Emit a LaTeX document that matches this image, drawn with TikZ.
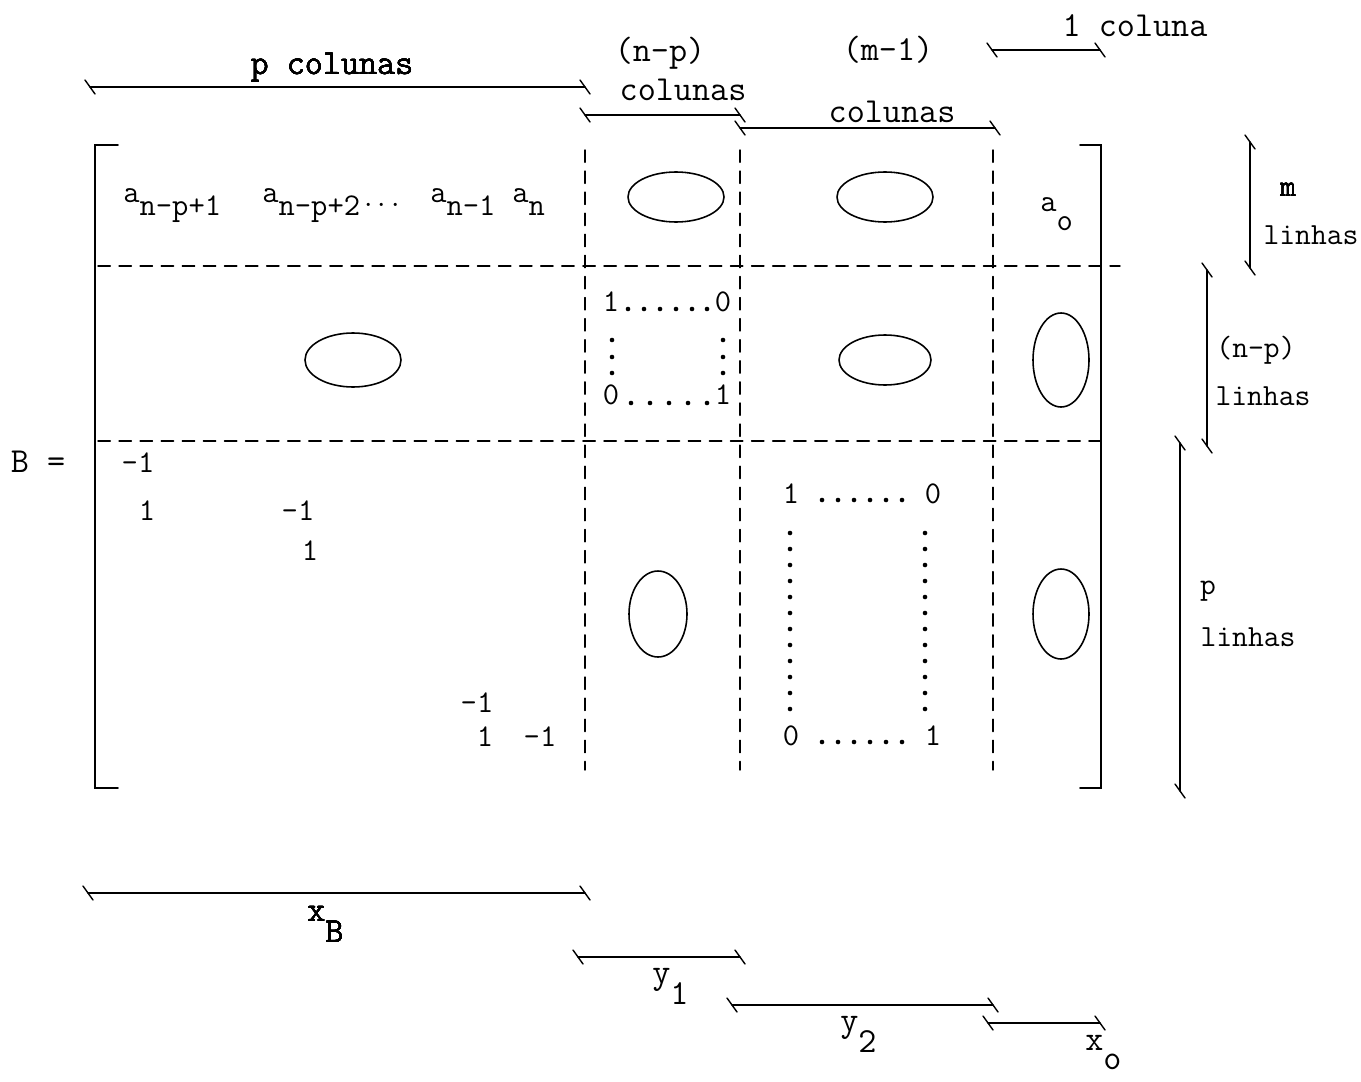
\documentclass[tikz,border=0pt]{standalone}
\usepackage{fontspec}
\usetikzlibrary{positioning}

\newcommand{\subidx}[3][0.42em]{#2\raisebox{-#1}{#3}}
\newcommand{\tickat}[1]{\draw[dimline] ([shift={(-5,-7)}]#1) -- ([shift={(5,7)}]#1);}

\begin{document}
\begin{tikzpicture}[
  x=0.02cm, y=-0.02cm,
  line cap=round,
  every node/.style={font=\fontsize{20}{24}\selectfont\ttfamily, inner sep=0pt},
  entry/.style={font=\fontsize{18}{22}\selectfont\ttfamily},
  rowlab/.style={font=\fontsize{17.5}{21}\selectfont\ttfamily},
  bracket/.style={line width=1.1pt},
  part/.style={line width=0.8pt, dash pattern=on 7pt off 5pt},
  dimline/.style={line width=0.8pt},
  blob/.style={line width=0.9pt}
]
  \useasboundingbox (0,0) rectangle (1361,1081);

  % matrix brackets
  \draw[bracket] (118,145) -- (95,145) -- (95,788) -- (118,788);
  \draw[bracket] (1080,145) -- (1101,145) -- (1101,788) -- (1080,788);
  \node (B) at (38,462) {B =};

  % partition lines
  \draw[part] (585,150) -- (585,770);
  \draw[part] (740,150) -- (740,770);
  \draw[part] (993,150) -- (993,770);
  \draw[part] (98,266) -- (1120,266);
  \draw[part] (98,441) -- (1100,441);

  % first block row
  \node[entry,anchor=base west] (a1) at (123,202) {\subidx{a}{n-p+1}};
  \node[entry,anchor=base west] (a2) at (262,202) {\subidx{a}{n-p+2}};
  \node[entry] (adots) at (382,206) {$\cdots$};
  \node[entry,anchor=base west] (a3) at (430,202) {\subidx{a}{n-1}};
  \node[entry,anchor=base west] (a4) at (512,202) {\subidx{a}{n}};
  \node[entry,anchor=base west] (a0) at (1040,212) {\subidx[0.6em]{a}{o}};

  % zero blocks
  \draw[blob] (676,197) ellipse [x radius=48, y radius=25];
  \draw[blob] (885,197) ellipse [x radius=48, y radius=25];
  \draw[blob] (353,360) ellipse [x radius=48, y radius=27];
  \draw[blob] (885,360) ellipse [x radius=46, y radius=25];
  \draw[blob] (1061,360) ellipse [x radius=28, y radius=47];
  \draw[blob] (658,614) ellipse [x radius=29, y radius=43];
  \draw[blob] (1061,614) ellipse [x radius=28, y radius=45];

  % identity (n-p)
  \node[entry,anchor=base] (i1) at (611,311) {1};
  \node[entry,anchor=base] (i2) at (723,311) {0};
  \node[entry,anchor=base] (i3) at (611,404) {0};
  \node[entry,anchor=base] (i4) at (723,404) {1};
  \foreach \x in {628,644,660,676,692,707} \fill (\x,309) circle (2.3);
  \foreach \x in {631,650,669,688,707} \fill (\x,403) circle (2.3);
  \foreach \y in {340,357,373} {
    \fill (612,\y) circle (2.3);
    \fill (723,\y) circle (2.3);
  }

  % identity (m-1)
  \node[entry,anchor=base] (j1) at (791,503) {1};
  \node[entry,anchor=base] (j2) at (933,503) {0};
  \node[entry,anchor=base] (j3) at (791,745) {0};
  \node[entry,anchor=base] (j4) at (933,745) {1};
  \foreach \x in {822,838,854,870,886,902} {
    \fill (\x,500) circle (2.3);
    \fill (\x,742) circle (2.3);
  }
  \foreach \k in {0,...,11} {
    \fill (790,533+16*\k) circle (2.3);
    \fill (925,533+16*\k) circle (2.3);
  }

  % bidiagonal block
  \node[entry] (d1) at (138,463) {-1};
  \node[entry] (d2) at (147,511) {1};
  \node[entry] (d3) at (298,511) {-1};
  \node[entry] (d4) at (310,551) {1};
  \node[entry] (d5) at (477,703) {-1};
  \node[entry] (d6) at (485,737) {1};
  \node[entry] (d7) at (540,737) {-1};

  % column sizes
  \coordinate (pcL) at (90,87);   \coordinate (pcR) at (585,87);
  \coordinate (npL) at (585,115); \coordinate (npR) at (740,115);
  \coordinate (mcL) at (740,128); \coordinate (mcR) at (995,128);
  \coordinate (ocL) at (992,50);  \coordinate (ocR) at (1100,50);
  \draw[dimline] (pcL) -- (pcR);
  \draw[dimline] (npL) -- (npR);
  \draw[dimline] (mcL) -- (mcR);
  \draw[dimline] (ocL) -- (ocR);
  \foreach \c in {pcL,pcR,npL,npR,mcL,mcR,ocL,ocR} \tickat{\c}
  \node (pcol) at (332,68) {p colunas};
  \node (npcol) at (660,53) {(n-p)};
  \node (npcol2) at (683,90) {colunas};
  \node (mcol) at (888,50) {(m-1)};
  \node (mcol2) at (892,112) {colunas};
  \node (ocol) at (1135,26) {1 coluna};

  % row sizes
  \coordinate (mlT) at (1250,142); \coordinate (mlB) at (1250,268);
  \coordinate (nlT) at (1207,270); \coordinate (nlB) at (1207,446);
  \coordinate (plT) at (1180,443); \coordinate (plB) at (1180,791);
  \draw[dimline] (mlT) -- (mlB);
  \draw[dimline] (nlT) -- (nlB);
  \draw[dimline] (plT) -- (plB);
  \foreach \c in {mlT,mlB,nlT,nlB,plT,plB} \tickat{\c}
  \node[rowlab] (mrow) at (1288,190) {m};
  \node[rowlab] (mrow2) at (1311,235) {linhas};
  \node[rowlab] (nrow) at (1256,350) {(n-p)};
  \node[rowlab] (nrow2) at (1263,396) {linhas};
  \node[rowlab] (prow) at (1208,591) {p};
  \node[rowlab] (prow2) at (1248,637) {linhas};

  % variable vectors
  \coordinate (xbL) at (88,893);   \coordinate (xbR) at (585,893);
  \coordinate (y1L) at (578,957);  \coordinate (y1R) at (740,957);
  \coordinate (y2L) at (732,1005); \coordinate (y2R) at (993,1005);
  \coordinate (xoL) at (988,1023); \coordinate (xoR) at (1100,1023);
  \draw[dimline] (xbL) -- (xbR);
  \draw[dimline] (y1L) -- (y1R);
  \draw[dimline] (y2L) -- (y2R);
  \draw[dimline] (xoL) -- (xoR);
  \foreach \c in {xbL,xbR,y1L,y1R,y2L,y2R,xoL,xoR} \tickat{\c}
  \node[anchor=base west] (xB) at (307,921) {\subidx[0.6em]{x}{B}};
  \node[anchor=base west] (y1) at (652,983) {\subidx[0.6em]{y}{1}};
  \node[anchor=base west] (y2) at (840,1031) {\subidx[0.6em]{y}{2}};
  \node[anchor=base west] (xo) at (1085,1050) {\subidx[0.55em]{x}{o}};
\end{tikzpicture}
\end{document}
